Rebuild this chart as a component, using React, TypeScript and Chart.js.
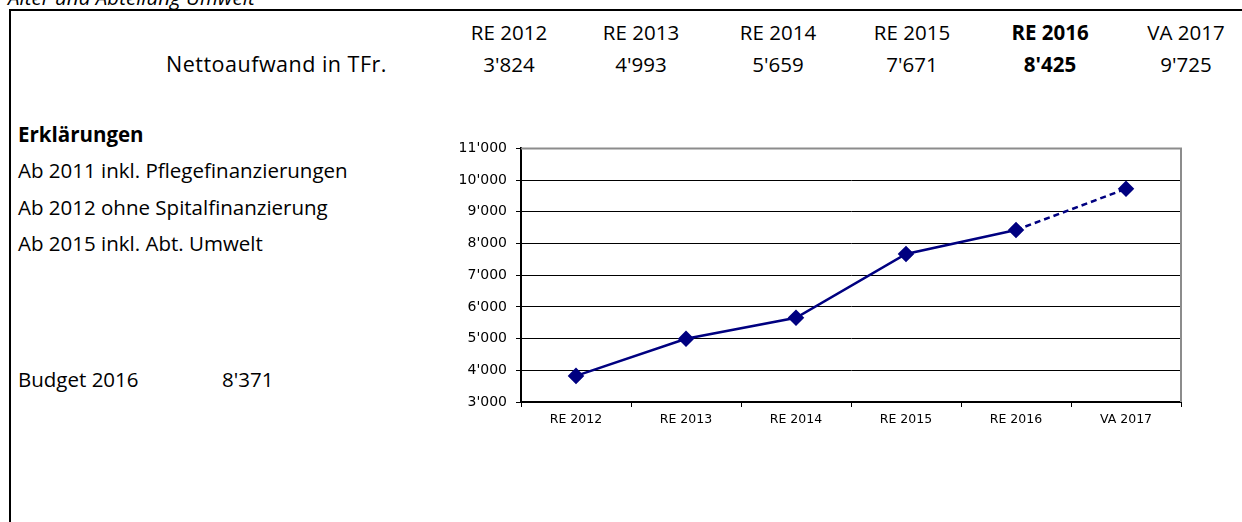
import React, { useEffect, useRef } from "react";
import { Chart, registerables } from "chart.js";

Chart.register(...registerables);

const categories = ["RE 2012", "RE 2013", "RE 2014", "RE 2015", "RE 2016", "VA 2017"];
const nettoaufwand = [3824, 4993, 5659, 7671, 8425, 9725];
const tableValues = ["3'824", "4'993", "5'659", "7'671", "8'425", "9'725"];
const boldIndex = 4;
const notes = ["Ab 2011 inkl. Pflegefinanzierungen", "Ab 2012 ohne Spitalfinanzierung", "Ab 2015 inkl. Abt. Umwelt"];
const budgetLabel = "Budget 2016";
const budgetValue = "8'371";
const yMin = 3000;
const yMax = 11000;
const yStep = 1000;

const fmt = (v: number) => String(v).replace(/\B(?=(\d{3})+(?!\d))/g, "'");

const TEXT_FONT = "'Open Sans', sans-serif";
const colX = [509, 641, 778, 912, 1050, 1186];

const plotBorder = {
  id: "plotBorder",
  afterDatasetsDraw(chart: any) {
    const { ctx, chartArea } = chart;
    ctx.save();
    ctx.strokeStyle = "#8c8c8c";
    ctx.lineWidth = 2;
    ctx.beginPath();
    ctx.moveTo(chartArea.left, chartArea.top);
    ctx.lineTo(chartArea.right, chartArea.top);
    ctx.lineTo(chartArea.right, chartArea.bottom);
    ctx.stroke();
    ctx.restore();
  },
};

export default function App() {
  const canvasRef = useRef<HTMLCanvasElement | null>(null);

  useEffect(() => {
    document.body.style.margin = "0";
    const canvas = canvasRef.current;
    if (!canvas) return;
    const chart = new Chart(canvas, {
      type: "line",
      data: {
        labels: categories,
        datasets: [
          {
            data: nettoaufwand,
            borderColor: "#000080",
            backgroundColor: "#000080",
            borderWidth: 2.5,
            pointStyle: "rectRot",
            pointRadius: 6.5,
            pointHoverRadius: 6.5,
            tension: 0,
            segment: {
              borderDash: (ctx: any) => (ctx.p1DataIndex === 5 ? [6, 4] : undefined),
            },
          },
        ],
      },
      options: {
        animation: false,
        responsive: false,
        devicePixelRatio: 1,
        layout: { padding: { top: 4, right: 19, left: 0, bottom: 0 } },
        plugins: { legend: { display: false }, tooltip: { enabled: false } },
        scales: {
          x: {
            offset: true,
            grid: {
              offset: true,
              drawOnChartArea: false,
              drawTicks: true,
              tickLength: 5,
              color: "#000",
            },
            border: { color: "#000", width: 2 },
            ticks: {
              color: "#000",
              font: { family: "'DejaVu Sans'", size: 12.5 },
              padding: 5,
              maxRotation: 0,
            },
            afterFit: (s: any) => {
              s.height = 35;
            },
          },
          y: {
            min: yMin,
            max: yMax,
            grid: {
              color: (c: any) => (c.tick && c.tick.value === yMax ? "#8c8c8c" : "#000"),
              tickColor: "#000",
              tickLength: 5,
              lineWidth: 1,
            },
            border: { color: "#000", width: 2 },
            ticks: {
              stepSize: yStep,
              color: "#000",
              padding: 9,
              font: { family: "'DejaVu Sans'", size: 14 },
              callback: (v: any) => fmt(Number(v)),
            },
            afterFit: (s: any) => {
              s.width = 81;
            },
          },
        },
      },
      plugins: [plotBorder],
    });
    return () => chart.destroy();
  }, []);

  const textStyle = (left: number, cy: number, extra: any = {}): React.CSSProperties => ({
    position: "absolute",
    left,
    top: cy - 12,
    lineHeight: "24px",
    height: 24,
    fontFamily: TEXT_FONT,
    fontSize: 20.5,
    color: "#000",
    whiteSpace: "nowrap",
    ...extra,
  });

  return (
    <div style={{ position: "absolute", left: 0, top: 0, width: 1242, height: 522, overflow: "hidden", background: "#fff" }}>
      <div style={{ ...textStyle(8, -3), fontStyle: "italic" }}>Alter und Abteilung Umwelt</div>
      <div
        style={{
          position: "absolute",
          left: 9,
          top: 9,
          width: 1260,
          height: 530,
          borderTop: "2px solid #000",
          borderLeft: "2px solid #000",
        }}
      />
      {categories.map((c, i) => (
        <div
          key={"h" + c}
          style={{ ...textStyle(colX[i] - 60, 32), width: 120, textAlign: "center", fontWeight: i === boldIndex ? "bold" : "normal" }}
        >
          {c}
        </div>
      ))}
      <div style={{ ...textStyle(87, 64), width: 300, textAlign: "right", fontSize: 21.5, letterSpacing: "0.5px" }}>
        Nettoaufwand in TFr.
      </div>
      {tableValues.map((v, i) => (
        <div
          key={"v" + i}
          style={{ ...textStyle(colX[i] - 60, 64), width: 120, textAlign: "center", fontWeight: i === boldIndex ? "bold" : "normal" }}
        >
          {v}
        </div>
      ))}
      <div style={{ ...textStyle(18, 134), fontWeight: "bold" }}>Erklärungen</div>
      {notes.map((n, i) => (
        <div key={"n" + i} style={textStyle(18, [170, 207, 243][i])}>
          {n}
        </div>
      ))}
      <div style={textStyle(18, 379)}>{budgetLabel}</div>
      <div style={textStyle(222, 379)}>{budgetValue}</div>
      <div style={{ position: "absolute", left: 440, top: 131, width: 760, height: 306 }}>
        <canvas ref={canvasRef} width={760} height={306} style={{ width: 760, height: 306, display: "block" }} />
      </div>
    </div>
  );
}
